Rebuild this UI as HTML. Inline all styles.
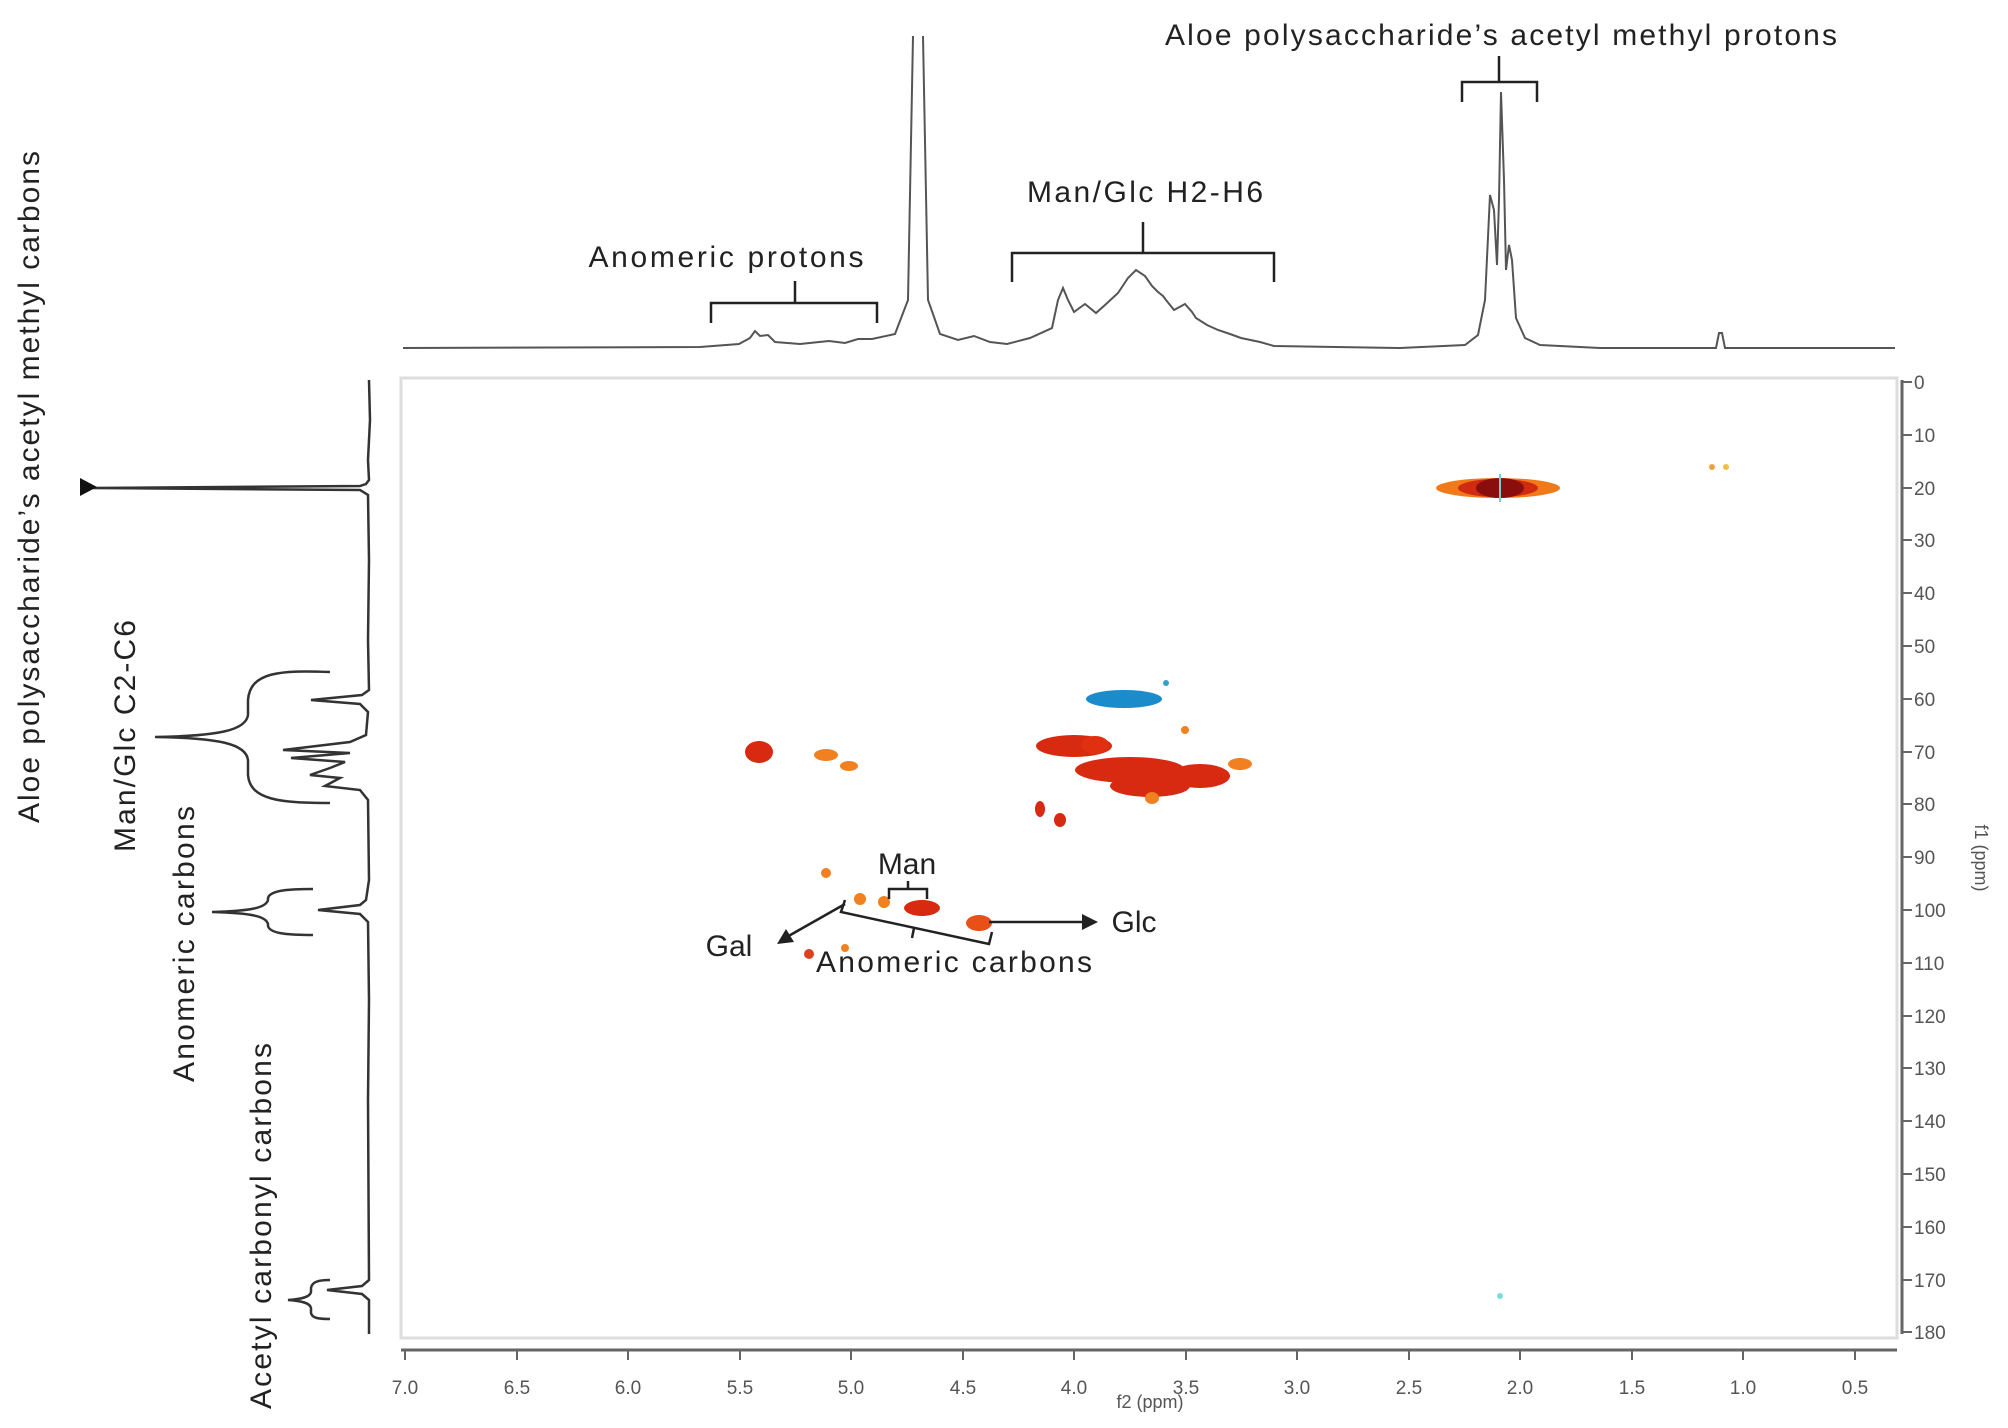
<!DOCTYPE html>
<html><head><meta charset="utf-8"><style>
html,body{margin:0;padding:0;background:#fff;}
svg{display:block;}
text{font-family:"Liberation Sans",sans-serif;fill:#222;}
</style></head><body>
<svg width="2008" height="1428" viewBox="0 0 2008 1428" xmlns="http://www.w3.org/2000/svg">
<rect width="2008" height="1428" fill="#fff"/>
<rect x="401" y="378" width="1496" height="960" fill="#fff" stroke="#ddd" stroke-width="3"/>
<line x1="401" y1="1350" x2="1897" y2="1350" stroke="#666" stroke-width="3"/>
<g stroke="#666" stroke-width="2">
<line x1="405" y1="1350" x2="405" y2="1360"/><line x1="517" y1="1350" x2="517" y2="1360"/><line x1="628" y1="1350" x2="628" y2="1360"/><line x1="740" y1="1350" x2="740" y2="1360"/><line x1="851" y1="1350" x2="851" y2="1360"/><line x1="963" y1="1350" x2="963" y2="1360"/><line x1="1074" y1="1350" x2="1074" y2="1360"/><line x1="1186" y1="1350" x2="1186" y2="1360"/><line x1="1297" y1="1350" x2="1297" y2="1360"/><line x1="1409" y1="1350" x2="1409" y2="1360"/><line x1="1520" y1="1350" x2="1520" y2="1360"/><line x1="1632" y1="1350" x2="1632" y2="1360"/><line x1="1743" y1="1350" x2="1743" y2="1360"/><line x1="1855" y1="1350" x2="1855" y2="1360"/>
</g>
<g font-size="19" text-anchor="middle">
<text x="405" y="1394" style="fill:#555">7.0</text><text x="517" y="1394" style="fill:#555">6.5</text><text x="628" y="1394" style="fill:#555">6.0</text><text x="740" y="1394" style="fill:#555">5.5</text><text x="851" y="1394" style="fill:#555">5.0</text><text x="963" y="1394" style="fill:#555">4.5</text><text x="1074" y="1394" style="fill:#555">4.0</text><text x="1186" y="1394" style="fill:#555">3.5</text><text x="1297" y="1394" style="fill:#555">3.0</text><text x="1409" y="1394" style="fill:#555">2.5</text><text x="1520" y="1394" style="fill:#555">2.0</text><text x="1632" y="1394" style="fill:#555">1.5</text><text x="1743" y="1394" style="fill:#555">1.0</text><text x="1855" y="1394" style="fill:#555">0.5</text>
<text x="1150" y="1408" font-size="18" style="fill:#555">f2 (ppm)</text>
</g>
<line x1="1902" y1="380" x2="1902" y2="1334" stroke="#666" stroke-width="3"/>
<g stroke="#666" stroke-width="2">
<line x1="1902" y1="382" x2="1912" y2="382"/><line x1="1902" y1="435" x2="1912" y2="435"/><line x1="1902" y1="488" x2="1912" y2="488"/><line x1="1902" y1="540" x2="1912" y2="540"/><line x1="1902" y1="593" x2="1912" y2="593"/><line x1="1902" y1="646" x2="1912" y2="646"/><line x1="1902" y1="699" x2="1912" y2="699"/><line x1="1902" y1="752" x2="1912" y2="752"/><line x1="1902" y1="804" x2="1912" y2="804"/><line x1="1902" y1="857" x2="1912" y2="857"/><line x1="1902" y1="910" x2="1912" y2="910"/><line x1="1902" y1="963" x2="1912" y2="963"/><line x1="1902" y1="1016" x2="1912" y2="1016"/><line x1="1902" y1="1068" x2="1912" y2="1068"/><line x1="1902" y1="1121" x2="1912" y2="1121"/><line x1="1902" y1="1174" x2="1912" y2="1174"/><line x1="1902" y1="1227" x2="1912" y2="1227"/><line x1="1902" y1="1280" x2="1912" y2="1280"/><line x1="1902" y1="1332" x2="1912" y2="1332"/>
</g>
<g font-size="19">
<text x="1914" y="389" style="fill:#555">0</text><text x="1914" y="442" style="fill:#555">10</text><text x="1914" y="495" style="fill:#555">20</text><text x="1914" y="547" style="fill:#555">30</text><text x="1914" y="600" style="fill:#555">40</text><text x="1914" y="653" style="fill:#555">50</text><text x="1914" y="706" style="fill:#555">60</text><text x="1914" y="759" style="fill:#555">70</text><text x="1914" y="811" style="fill:#555">80</text><text x="1914" y="864" style="fill:#555">90</text><text x="1914" y="917" style="fill:#555">100</text><text x="1914" y="970" style="fill:#555">110</text><text x="1914" y="1023" style="fill:#555">120</text><text x="1914" y="1075" style="fill:#555">130</text><text x="1914" y="1128" style="fill:#555">140</text><text x="1914" y="1181" style="fill:#555">150</text><text x="1914" y="1234" style="fill:#555">160</text><text x="1914" y="1287" style="fill:#555">170</text><text x="1914" y="1339" style="fill:#555">180</text>
<text transform="translate(1975,858) rotate(90)" font-size="18" text-anchor="middle" style="fill:#555">f1 (ppm)</text>
</g>
<ellipse cx="1498" cy="488" rx="62" ry="10" fill="#f07a1a"/>
<ellipse cx="1498" cy="488" rx="40" ry="9" fill="#d02a10"/>
<ellipse cx="1500" cy="488" rx="24" ry="10" fill="#8a0e0e"/>
<line x1="1500" y1="474" x2="1500" y2="502" stroke="#7cc" stroke-width="2"/>
<circle cx="1712" cy="467" r="3" fill="#f0a040"/><circle cx="1726" cy="467" r="3" fill="#f0c040"/>
<ellipse cx="1124" cy="699" rx="38" ry="9" fill="#1a8ccc"/>
<circle cx="1166" cy="683" r="3" fill="#30a0d0"/>
<g fill="#d82a10">
<ellipse cx="759" cy="752" rx="14" ry="11"/>
<ellipse cx="1074" cy="746" rx="38" ry="11"/>
<ellipse cx="1130" cy="770" rx="55" ry="13"/>
<ellipse cx="1150" cy="786" rx="40" ry="11"/>
<ellipse cx="1200" cy="776" rx="30" ry="12"/>
<ellipse cx="922" cy="908" rx="18" ry="8"/>
<ellipse cx="1040" cy="809" rx="5" ry="8"/>
<ellipse cx="1060" cy="820" rx="6" ry="7"/>
</g>
<g fill="#f08020">
<ellipse cx="826" cy="755" rx="12" ry="6"/>
<ellipse cx="849" cy="766" rx="9" ry="5"/>
<ellipse cx="1240" cy="764" rx="12" ry="6"/>
<circle cx="1185" cy="730" r="4"/>
<ellipse cx="1152" cy="798" rx="7" ry="6"/>
<ellipse cx="1095" cy="745" rx="14" ry="9" fill="#e03010"/>
<circle cx="826" cy="873" r="5"/>
<circle cx="860" cy="899" r="6"/>
<circle cx="884" cy="902" r="6"/>
<ellipse cx="979" cy="923" rx="13" ry="8" fill="#e85018"/>
<circle cx="809" cy="954" r="5" fill="#e04020"/>
<circle cx="845" cy="948" r="4"/>
</g>
<circle cx="1500" cy="1296" r="3" fill="#7dd"/>
<g stroke="#222" stroke-width="2.5" fill="none">
<path d="M889 899 L889 889 L927 889 L927 899 M908 889 L908 881"/>
<path d="M845 900 L841 912 L989 944 L992 932 M914 928 L912 938"/>
<line x1="845" y1="904" x2="785" y2="938"/>
<line x1="989" y1="922" x2="1085" y2="922"/>
</g>
<polygon points="777,944 786,929 794,942" fill="#222"/>
<polygon points="1098,922 1082,914 1082,930" fill="#222"/>
<g font-size="30">
<text x="907" y="874" text-anchor="middle">Man</text>
<text x="954" y="972" text-anchor="middle" textLength="276">Anomeric carbons</text>
<text x="729" y="956" text-anchor="middle">Gal</text>
<text x="1134" y="932" text-anchor="middle">Glc</text>
</g>
<path fill="none" stroke="#555" stroke-width="2" d="M403 348 L700 347 L739 344 L750 338 L755 331 L760 336 L768 335 L775 342 L800 344 L829 341 L845 343 L858 339 L872 339 L895 334 L908 300 L913 36 M923 36 L928 300 L940 334 L958 340 L974 336 L990 342 L1007 344 L1030 338 L1052 328 L1058 300 L1063 288 L1068 300 L1074 312 L1085 304 L1096 313 L1105 305 L1118 293 L1128 278 L1136 270 L1145 276 L1152 286 L1158 292 L1163 296 L1166 300 L1174 310 L1185 304 L1192 312 L1196 318 L1207 325 L1218 330 L1230 334 L1241 338 L1260 342 L1274 346 L1400 348 L1465 345 L1478 335 L1485 300 L1490 195 L1494 210 L1497 265 L1499 200 L1501 92 L1504 180 L1506 270 L1509 245 L1512 260 L1516 318 L1525 338 L1540 345 L1600 348 L1716 348 L1719 333 L1722 333 L1725 348 L1895 348"/>
<g stroke="#222" stroke-width="2.5" fill="none">
<path d="M711 323 L711 303 L877 303 L877 323 M795 303 L795 281"/>
<path d="M1012 282 L1012 253 L1274 253 L1274 282 M1143 253 L1143 222"/>
<path d="M1462 102 L1462 82 L1537 82 L1537 102 M1499 82 L1499 56"/>
</g>
<g font-size="30">
<text x="726" y="267" text-anchor="middle" textLength="275">Anomeric protons</text>
<text x="1145" y="202" text-anchor="middle" textLength="236">Man/Glc H2-H6</text>
<text x="1501" y="45" text-anchor="middle" textLength="672">Aloe polysaccharide’s acetyl methyl protons</text>
</g>
<path fill="none" stroke="#333" stroke-width="2.5" d="M369 380 L370 420 L368 460 L369 480 L366 484 L360 486 L90 488 L360 490 L368 495 L369 560 L368 640 L369 690 L362 695 L311 700 L360 704 L368 712 L366 735 L350 742 L283 750 L350 753 L291 758 L345 762 L330 768 L310 775 L340 778 L325 786 L360 790 L368 800 L369 880 L366 900 L360 905 L318 910 L360 914 L368 922 L369 1000 L368 1100 L369 1280 L362 1286 L327 1290 L362 1294 L369 1300 L369 1334"/>
<polygon points="97,487 80,478 80,496" fill="#111"/>
<g stroke="#333" stroke-width="2.5" fill="none">
<path d="M330 672 C280 670 250 672 248 700 L248 715 C246 730 220 736 155 737 C220 738 246 744 248 760 L248 775 C250 800 280 803 330 803"/>
<path d="M313 889 C290 889 270 890 268 898 L268 900 C266 908 250 911 212 912 C250 913 266 916 268 924 L268 926 C270 934 290 935 313 935"/>
<path d="M330 1280 C318 1280 312 1282 311 1288 L311 1292 C310 1297 302 1299 288 1300 C302 1301 310 1303 311 1308 L311 1313 C312 1318 318 1319 330 1319"/>
</g>
<g font-size="30">
<text transform="translate(39,487) rotate(-90)" text-anchor="middle" textLength="672">Aloe polysaccharide’s acetyl methyl carbons</text>
<text transform="translate(135,736) rotate(-90)" text-anchor="middle" textLength="232">Man/Glc C2-C6</text>
<text transform="translate(194,944) rotate(-90)" text-anchor="middle" textLength="276">Anomeric carbons</text>
<text transform="translate(271,1226) rotate(-90)" text-anchor="middle" textLength="366">Acetyl carbonyl carbons</text>
</g>
</svg>
</body></html>
